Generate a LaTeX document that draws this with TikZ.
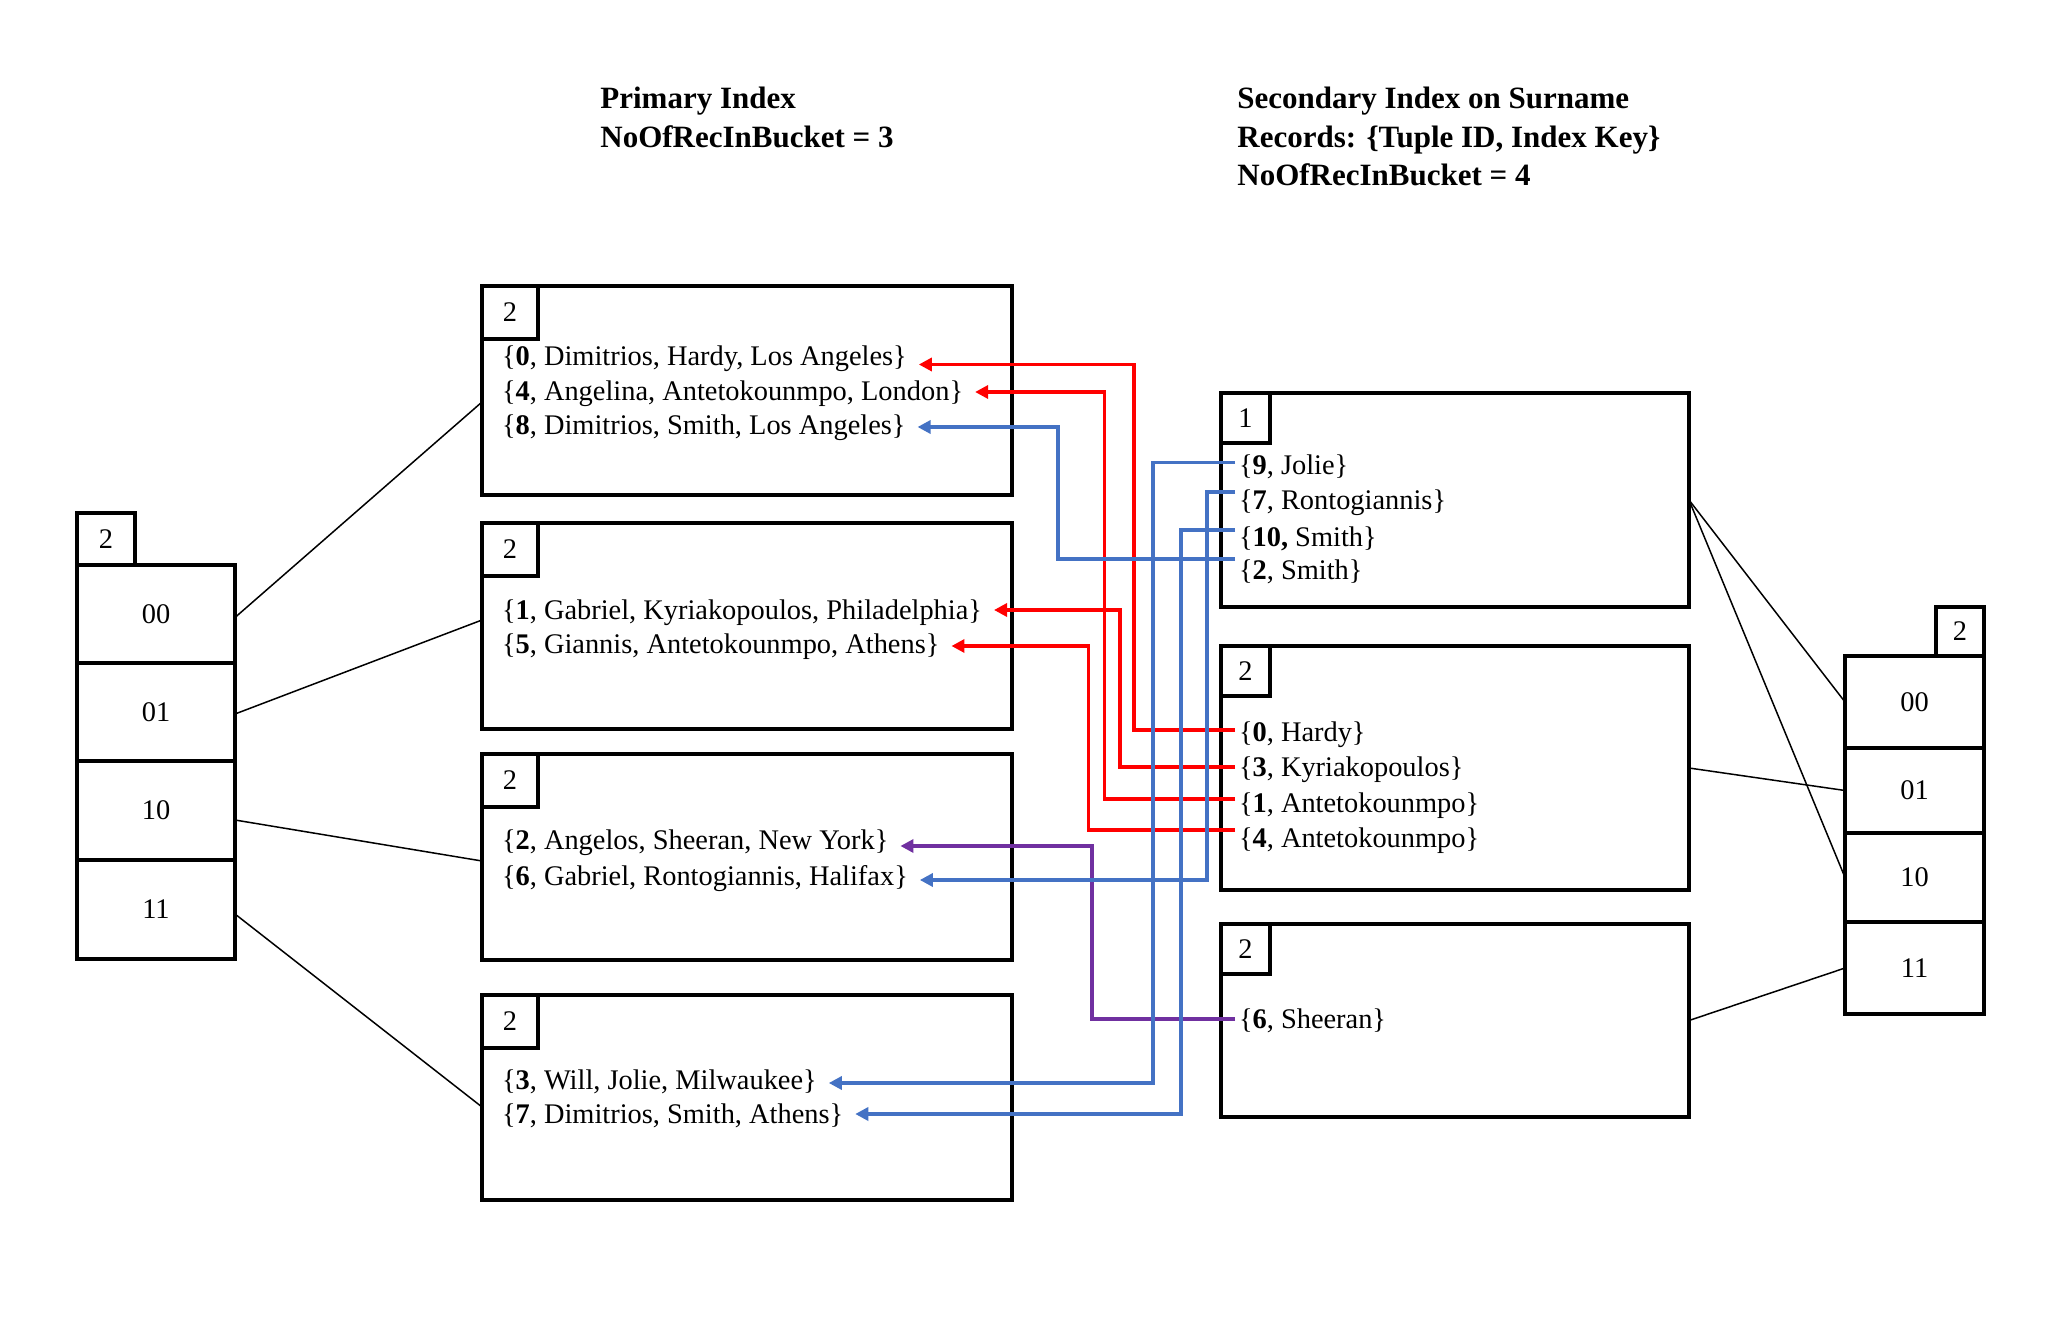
\documentclass[tikz,border=0pt]{standalone}
\usepackage{fontspec}
\setmainfont{Liberation Serif}
\usetikzlibrary{arrows.meta}
\definecolor{myred}{RGB}{255,0,0}
\definecolor{myblue}{RGB}{68,114,196}
\definecolor{mypurple}{RGB}{112,48,160}
\newcommand\recfont{\fontsize{14.2}{16}\selectfont}
\newcommand\ttlfont{\fontsize{15.5}{18}\selectfont\bfseries}
\begin{document}
\begin{tikzpicture}[x=0.5pt,y=-0.5pt,
  box/.style={draw, line width=1.75pt, inner sep=0pt, outer sep=0pt, anchor=north west, font=\recfont},
  rec/.style={anchor=west, inner sep=0pt, outer sep=0pt, text height=9.5pt, text depth=2.5pt, font=\recfont},
  ttl/.style={anchor=base west, inner sep=0pt, font=\ttlfont},
  link/.style={line width=0.75pt},
  ptr/.style={line width=1.65pt, line join=miter, -{Triangle[length=6.5pt,width=6.5pt]}},
]
\fill[white] (0,0) rectangle (2066,1320);
\useasboundingbox (0,0) rectangle (2066,1320);

% titles
\node[ttl] (t1) at (600,109) {Primary Index};
\node[ttl] (t2) at (600,147.5) {NoOfRecInBucket = 3};
\node[ttl] (t3) at (1237,109) {Secondary Index on Surname};
\node[ttl] (t4) at (1237,147.5) {Records: \{Tuple ID, Index Key\}};
\node[ttl] (t5) at (1237,186) {NoOfRecInBucket = 4};

% primary directory
\node[box, minimum width=29pt, minimum height=26pt] (pdn) at (77,513) {2};
\node[box, minimum width=79pt, minimum height=49pt] (pd00) at (77,565) {00};
\node[box, minimum width=79pt, minimum height=49pt] (pd01) at (77,663) {01};
\node[box, minimum width=79pt, minimum height=49.5pt] (pd10) at (77,761) {10};
\node[box, minimum width=79pt, minimum height=49.5pt] (pd11) at (77,860) {11};

% primary buckets
\node[box, minimum width=265pt, minimum height=104.5pt] (pb1) at (482,286) {};
\node[box, minimum width=265pt, minimum height=103pt] (pb2) at (482,523) {};
\node[box, minimum width=265pt, minimum height=103pt] (pb3) at (482,754) {};
\node[box, minimum width=265pt, minimum height=102.5pt] (pb4) at (482,995) {};
\node[box, minimum width=28pt, minimum height=26.5pt] (pn1) at (482,286) {2};
\node[box, minimum width=28pt, minimum height=26.5pt] (pn2) at (482,523) {2};
\node[box, minimum width=28pt, minimum height=26.5pt] (pn3) at (482,754) {2};
\node[box, minimum width=28pt, minimum height=26.5pt] (pn4) at (482,995) {2};

\node[rec] (p1a) at (502,359) {\{\textbf{0}, Dimitrios, Hardy, Los Angeles\}};
\node[rec] (p1b) at (502,393.5) {\{\textbf{4}, Angelina, Antetokounmpo, London\}};
\node[rec] (p1c) at (502,428) {\{\textbf{8}, Dimitrios, Smith, Los Angeles\}};
\node[rec] (p2a) at (502,612) {\{\textbf{1}, Gabriel, Kyriakopoulos, Philadelphia\}};
\node[rec] (p2b) at (502,646) {\{\textbf{5}, Giannis, Antetokounmpo, Athens\}};
\node[rec] (p3a) at (502,842) {\{\textbf{2}, Angelos, Sheeran, New York\}};
\node[rec] (p3b) at (502,878) {\{\textbf{6}, Gabriel, Rontogiannis, Halifax\}};
\node[rec] (p4a) at (502,1082) {\{\textbf{3}, Will, Jolie, Milwaukee\}};
\node[rec] (p4b) at (502,1116) {\{\textbf{7}, Dimitrios, Smith, Athens\}};

% secondary buckets
\node[box, minimum width=234pt, minimum height=107pt] (sb1) at (1221,393) {};
\node[box, minimum width=234pt, minimum height=122pt] (sb2) at (1221,646) {};
\node[box, minimum width=234pt, minimum height=96.5pt] (sb3) at (1221,924) {};
\node[box, minimum width=24.5pt, minimum height=25pt] (sn1) at (1221,393) {1};
\node[box, minimum width=24.5pt, minimum height=25pt] (sn2) at (1221,646) {2};
\node[box, minimum width=24.5pt, minimum height=25pt] (sn3) at (1221,924) {2};

\node[rec] (s1a) at (1239,468) {\{\textbf{9}, Jolie\}};
\node[rec] (s1b) at (1239,503) {\{\textbf{7}, Rontogiannis\}};
\node[rec] (s1c) at (1239,539) {\{\textbf{10,} Smith\}};
\node[rec] (s1d) at (1239,573) {\{\textbf{2}, Smith\}};
\node[rec] (s2a) at (1239,734) {\{\textbf{0}, Hardy\}};
\node[rec] (s2b) at (1239,769.5) {\{\textbf{3}, Kyriakopoulos\}};
\node[rec] (s2c) at (1239,805) {\{\textbf{1}, Antetokounmpo\}};
\node[rec] (s2d) at (1239,840.5) {\{\textbf{4}, Antetokounmpo\}};
\node[rec] (s3a) at (1239,1021) {\{\textbf{6}, Sheeran\}};

% secondary directory
\node[box, minimum width=24pt, minimum height=24.5pt] (sdn) at (1936,607) {2};
\node[box, minimum width=69.5pt, minimum height=46pt] (sd00) at (1845,656) {00};
\node[box, minimum width=69.5pt, minimum height=42.5pt] (sd01) at (1845,748) {01};
\node[box, minimum width=69.5pt, minimum height=44.5pt] (sd10) at (1845,833) {10};
\node[box, minimum width=69.5pt, minimum height=46pt] (sd11) at (1845,922) {11};

% directory links
\draw[link] ([yshift=-1.75pt]pd00.east) -- ([yshift=-5.75pt]pb1.west);
\draw[link] ([yshift=-1pt]pd01.east) -- ([yshift=3pt]pb2.west);
\draw[link] ([yshift=-4.75pt]pd10.east) -- ([yshift=-2pt]pb3.west);
\draw[link] ([yshift=-2.25pt]pd11.east) -- ([yshift=-4.75pt]pb4.west);
\draw[link] (sb1.east) -- (sd00.west);
\draw[link] (sb1.east) -- (sd10.west);
\draw[link] (sb2.east) -- (sd01.west);
\draw[link] (sb3.east) -- (sd11.west);

% vertical routing columns
\coordinate (vr1) at (1134,0);
\coordinate (vr2) at (1120,0);
\coordinate (vr3) at (1104.5,0);
\coordinate (vr4) at (1088.5,0);
\coordinate (vb1) at (1153,0);
\coordinate (vb2) at (1207,0);
\coordinate (vb3) at (1181,0);
\coordinate (vb4) at (1058,0);
\coordinate (vp1) at (1092,0);

% pointers
\coordinate (a1) at ([xshift=-2pt,yshift=2pt]s2a.west);
\coordinate (a2) at ([xshift=-2pt,yshift=1.25pt]s2b.west);
\coordinate (a3) at ([xshift=-2pt,yshift=3pt]s2c.west);
\coordinate (a4) at ([xshift=-2pt,yshift=5.25pt]s2d.west);
\coordinate (a5) at ([xshift=-2pt,yshift=2.75pt]s1a.west);
\coordinate (a6) at ([xshift=-2pt,yshift=5.5pt]s1b.west);
\coordinate (a7) at ([xshift=-2pt,yshift=4.5pt]s1c.west);
\coordinate (a8) at ([xshift=-2pt,yshift=7pt]s1d.west);
\coordinate (a9) at ([xshift=-2pt,yshift=1pt]s3a.west);

\draw[ptr, myred] (a1) -- (a1 -| vr1) |- ([xshift=6pt,yshift=-2.75pt]p1a.east);
\draw[ptr, myred] (a2) -- (a2 -| vr2) |- ([xshift=6pt,yshift=1pt]p2a.east);
\draw[ptr, myred] (a3) -- (a3 -| vr3) |- ([xshift=6pt,yshift=0.75pt]p1b.east);
\draw[ptr, myred] (a4) -- (a4 -| vr4) |- ([xshift=6pt]p2b.east);
\draw[ptr, mypurple] (a9) -- (a9 -| vp1) |- ([xshift=6pt,yshift=-2pt]p3a.east);
\draw[ptr, myblue] (a8) -- (a8 -| vb4) |- ([xshift=6pt,yshift=0.5pt]p1c.east);
\draw[ptr, myblue] (a5) -- (a5 -| vb1) |- ([xshift=6pt,yshift=-0.5pt]p4a.east);
\draw[ptr, myblue] (a7) -- (a7 -| vb3) |- ([xshift=6pt,yshift=1pt]p4b.east);
\draw[ptr, myblue] (a6) -- (a6 -| vb2) |- ([xshift=6pt,yshift=-1pt]p3b.east);
\end{tikzpicture}
\end{document}
